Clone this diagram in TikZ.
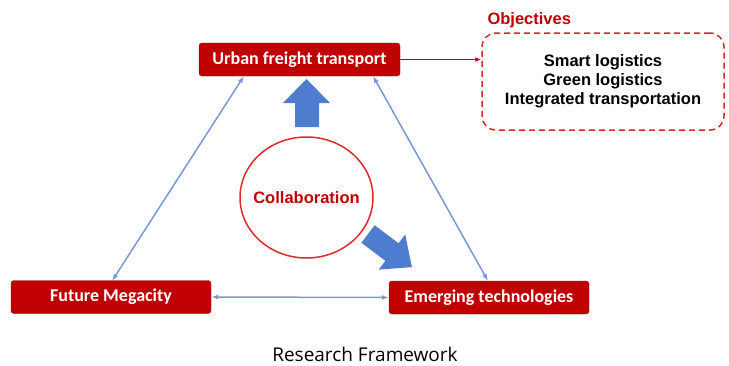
\documentclass[tikz,border=0pt]{standalone}
\usepackage{fontspec}
\setmainfont{Liberation Sans}
\newfontfamily\boxfont{Carlito}
\newfontfamily\capfont{Open Sans}
\usetikzlibrary{arrows.meta,shapes.geometric}
\definecolor{boxred}{HTML}{C00000}
\definecolor{lineblue}{HTML}{7A97D6}
\definecolor{arrowblue}{HTML}{4E7DD0}
\definecolor{dashred}{HTML}{D42A2A}
\definecolor{circred}{HTML}{E02A2A}
\tikzset{
  redbox/.style={draw=boxred!80!black, fill=boxred, rounded corners=3pt, text=white,
    font=\boxfont\bfseries\fontsize{18}{20}\selectfont, minimum height=33pt, inner sep=0pt},
  link/.style={draw=lineblue, line width=1.5pt, {Latex[length=7pt,width=5pt]}-{Latex[length=7pt,width=5pt]}},
}
\begin{document}
\begin{tikzpicture}[x=1pt,y=-1pt]
\useasboundingbox (0,0) rectangle (729,365);
\node[redbox, minimum width=201pt] (urban) at (299.5,59.5) {Urban freight transport};
\node[redbox, minimum width=200pt] (future) at (111,297) {Future Megacity};
\node[redbox, minimum width=200pt] (emerging) at (489,297.5) {Emerging technologies};
\node[draw=dashred, line width=1.5pt, dash pattern=on 6pt off 4pt, rounded corners=14pt,
  minimum width=242pt, minimum height=97pt, align=center,
  font=\bfseries\fontsize{16.5}{19}\selectfont] (obj) at (603,81.5)
  {Smart logistics\\Green logistics\\Integrated transportation};
\node[font=\bfseries\fontsize{16.5}{18}\selectfont, text=boxred, anchor=west] (objlabel) at (484,20) {Objectives};
\node[ellipse, draw=circred, line width=1.5pt, minimum width=133pt, minimum height=121pt, inner sep=0pt] (collab) at (306.5,197.5) {};
\node[font=\bfseries\fontsize{16.5}{18}\selectfont, text=boxred] (collabtext) at (collab.center) {Collaboration};
\draw[boxred, line width=1.5pt, -{Latex[length=6pt,width=5pt]}] (urban.east) -- (urban.east -| obj.west);
\coordinate (lt) at (244,76);
\coordinate (lb) at (112,281);
\coordinate (rt) at (373,76);
\coordinate (rb) at (488,281);
\draw[link] (lb) -- (lt);
\draw[link] (rt) -- (rb);
\draw[link] (future.east) -- (emerging.west);
% block arrows
\fill[arrowblue] (295,127) -- (295,103) -- (283,103) -- (306.5,79) -- (330,103) -- (319,103) -- (319,127) -- cycle;
\begin{scope}[shift={(368,234)}, rotate=-37]
\fill[arrowblue] (0,-11) -- (30,-11) -- (30,-22) -- (55,0) -- (30,22) -- (30,11) -- (0,11) -- cycle;
\end{scope}
\node[font=\capfont\fontsize{19}{21}\selectfont] (caption) at (365,354) {Research Framework};
\end{tikzpicture}
\end{document}
